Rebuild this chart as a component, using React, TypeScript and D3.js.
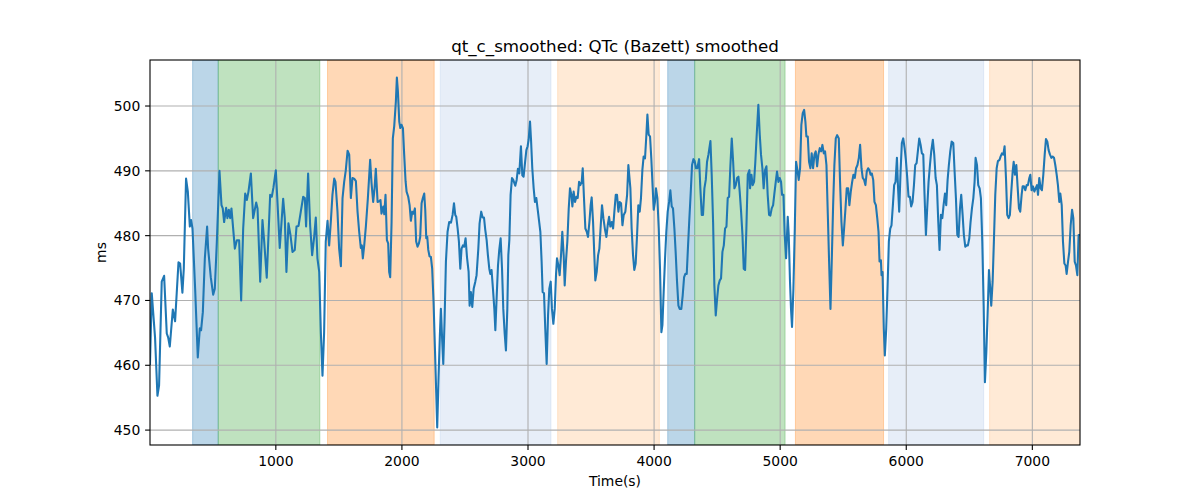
import React from 'react';
import * as d3 from 'd3';

const times = [
  2, 16, 42, 61, 74, 95, 114, 135, 146, 159, 183, 201, 228, 241, 259, 270, 288, 302, 318, 328, 339, 360, 381, 397, 407, 421, 437, 455, 463, 484, 503, 516, 532, 553, 569, 579, 590, 606, 616, 627, 638, 648, 675, 691, 709, 725, 741, 757, 770, 783, 802, 820, 844, 855, 876, 894, 908,
  928, 955, 968, 981, 1000, 1013, 1031, 1058, 1071, 1084, 1100, 1116, 1132, 1150, 1164, 1180, 1198, 1217, 1230, 1240, 1256, 1272, 1288, 1304, 1317, 1330, 1344, 1357, 1370, 1383, 1396, 1410, 1423, 1436, 1449, 1463, 1473, 1489, 1502, 1516, 1529, 1542, 1555, 1569, 1582, 1595, 1608, 1621, 1635, 1648, 1661, 1674, 1682, 1690, 1701, 1714, 1730, 1748, 1759, 1772, 1783, 1793, 1807, 1820, 1830, 1838, 1852, 1860, 1870, 1881, 1891, 1899,
  1907, 1918, 1928, 1939, 1952, 1960, 1968, 1979, 1987, 1997, 2008, 2018, 2029, 2037, 2050, 2061, 2071, 2082, 2092, 2103, 2113, 2124, 2135, 2145, 2156, 2166, 2177, 2185, 2193, 2201, 2209, 2219, 2230, 2240, 2251, 2262, 2272, 2280, 2291, 2301, 2309, 2320, 2328, 2338, 2349, 2362, 2375, 2389, 2402, 2413, 2423, 2431, 2442, 2452, 2463, 2473, 2484, 2494, 2505, 2516, 2529, 2537, 2547, 2558, 2569, 2582, 2592, 2606, 2616, 2629, 2640, 2651, 2661, 2672, 2682, 2693, 2701, 2711, 2722, 2733, 2741, 2751, 2762, 2772, 2783, 2794, 2804, 2815, 2825, 2836, 2844, 2852,
  2862, 2873, 2883, 2899, 2910, 2920, 2931, 2944, 2955, 2965, 2976, 2987, 2997, 3005, 3016, 3024, 3034, 3045, 3055, 3066, 3077, 3087, 3098, 3108, 3116, 3127, 3137, 3148, 3159, 3169, 3180, 3190, 3201, 3212, 3222, 3230, 3241, 3251, 3262, 3272, 3283, 3291, 3301, 3312, 3323, 3333, 3344, 3352, 3362, 3373, 3384, 3394, 3405, 3415, 3426, 3434, 3444, 3455, 3466, 3476, 3487, 3497, 3505, 3516, 3526, 3534, 3545, 3556, 3566, 3577, 3587, 3598, 3611, 3622, 3632, 3643, 3653, 3664, 3675, 3685, 3696, 3706, 3717, 3727, 3738, 3749, 3759, 3772, 3786, 3796,
  3812, 3822, 3833, 3843, 3854, 3865, 3875, 3886, 3896, 3907, 3917, 3928, 3939, 3947, 3957, 3968, 3978, 3989, 3997, 4007, 4015, 4026, 4037, 4047, 4058, 4066, 4076, 4087, 4097, 4108, 4119, 4129, 4140, 4150, 4161, 4171, 4182, 4193, 4203, 4216, 4227, 4238, 4248, 4259, 4269, 4280, 4291, 4301, 4312, 4322, 4333, 4343, 4357, 4367, 4378, 4388, 4399, 4410, 4420, 4431, 4447, 4457, 4468, 4478, 4489, 4500, 4510, 4521, 4531, 4542, 4553, 4563, 4574, 4584, 4595, 4605, 4616, 4627, 4637, 4648, 4658, 4669, 4679, 4690, 4701, 4711, 4722, 4732, 4743, 4756,
  4761, 4772, 4782, 4793, 4803, 4814, 4827, 4838, 4848, 4859, 4869, 4880, 4891, 4901, 4912, 4922, 4933, 4944, 4954, 4965, 4975, 4986, 4996, 5007, 5015, 5026, 5036, 5047, 5060, 5068, 5078, 5086, 5094, 5105, 5116, 5126, 5137, 5147, 5158, 5168, 5179, 5190, 5200, 5208, 5219, 5229, 5240, 5250, 5261, 5272, 5282, 5293, 5303, 5314, 5325, 5335, 5346, 5356, 5367, 5378, 5388, 5399, 5409, 5420, 5430, 5441, 5452, 5465, 5475, 5486, 5497, 5507, 5518, 5528, 5539, 5549, 5560, 5571, 5581, 5592, 5602, 5613, 5624, 5634, 5645, 5655, 5666, 5676, 5687, 5698, 5708,
  5717, 5727, 5738, 5748, 5759, 5770, 5780, 5788, 5799, 5804, 5812, 5822, 5830, 5841, 5852, 5862, 5873, 5883, 5894, 5904, 5915, 5926, 5934, 5944, 5955, 5965, 5976, 5987, 5997, 6008, 6018, 6029, 6039, 6050, 6061, 6071, 6082, 6092, 6103, 6114, 6124, 6135, 6145, 6156, 6166, 6177, 6188, 6198, 6211, 6222, 6233, 6243, 6254, 6264, 6275, 6286, 6296, 6307, 6317, 6328, 6338, 6349, 6360, 6373, 6383, 6394, 6405, 6415, 6426, 6436, 6447, 6457, 6468, 6479, 6489, 6500, 6510, 6521, 6532, 6542, 6550, 6561, 6571, 6582, 6592, 6603, 6614, 6624, 6635, 6645, 6656,
  6666, 6674, 6685, 6695, 6706, 6717, 6727, 6740, 6748, 6759, 6770, 6780, 6791, 6801, 6812, 6822, 6833, 6844, 6852, 6862, 6873, 6883, 6894, 6904, 6915, 6923, 6934, 6944, 6955, 6965, 6976, 6984, 6994, 7005, 7016, 7026, 7037, 7045, 7055, 7066, 7076, 7087, 7098, 7108, 7119, 7129, 7140, 7151, 7161, 7172, 7182, 7193, 7203, 7214, 7222, 7233, 7243, 7254, 7264, 7272, 7283, 7293, 7304, 7315, 7325, 7336, 7346, 7357, 7367, 7378,
];

const qtc = [
  460.2, 471.1, 464.3, 455.3, 456.9, 472.9, 473.8, 464.9, 464.3, 462.9, 468.6, 466.8, 475.9, 475.7, 471.2, 474.9, 488.8, 486.8, 481.4, 482.4, 481.1, 471.8, 461.2, 465.7, 465.4, 468.2, 476.5, 481.4, 478.0, 473.6, 470.9, 471.8, 479.0, 490.0, 484.7, 484.2, 482.1, 484.3, 482.7, 484.0, 482.7, 484.2, 478.0, 479.3, 479.3, 470.0, 481.1, 486.5, 485.5, 486.8, 489.6, 482.7, 485.1, 484.2, 472.9, 482.4, 479.0,
  473.5, 486.3, 486.0, 487.4, 490.1, 485.2, 478.1, 485.7, 482.7, 474.4, 481.9, 480.1, 477.5, 477.8, 481.4, 481.5, 483.7, 486.0, 485.8, 481.4, 489.6, 481.6, 477.0, 479.8, 482.8, 476.5, 474.4, 465.1, 458.4, 465.1, 479.1, 482.3, 478.5, 482.1, 486.3, 488.8, 488.3, 483.7, 478.0, 475.3, 485.8, 488.3, 490.1, 493.1, 492.5, 485.8, 488.9, 488.8, 488.4, 483.7, 480.6, 478.1, 478.5, 476.5, 478.5, 481.4, 485.8, 491.7, 488.1, 485.2, 487.3, 490.3, 485.2, 485.3, 485.5, 483.4, 484.5, 483.3, 486.3, 479.3, 478.8, 474.4,
  473.6, 482.1, 495.0, 496.9, 500.7, 504.4, 502.3, 497.6, 496.6, 497.1, 496.6, 492.5, 488.4, 486.8, 486.0, 484.7, 482.3, 483.7, 483.4, 484.2, 479.1, 478.3, 478.8, 479.8, 485.0, 485.8, 486.5, 484.0, 479.6, 479.8, 477.8, 476.8, 476.7, 474.9, 469.8, 462.5, 455.8, 450.4, 458.4, 464.6, 468.7, 463.6, 460.2, 466.7, 476.0, 480.6, 482.1, 482.0, 483.2, 485.0, 483.2, 482.9, 481.1, 479.1, 474.9, 478.0, 478.5, 478.3, 479.6, 476.7, 474.4, 469.2, 471.3, 469.0, 471.8, 472.9, 473.9, 478.0, 481.9, 483.7, 482.8, 482.8, 480.9, 479.3, 477.0, 474.9, 474.1, 474.7, 471.8, 468.7, 465.4, 470.3, 475.4, 477.8, 479.6, 474.9, 468.7, 464.9, 462.3, 468.7, 477.0, 479.3,
  486.3, 488.9, 488.6, 487.7, 488.6, 490.3, 489.6, 493.8, 489.3, 489.1, 491.2, 493.2, 493.8, 494.8, 497.6, 494.8, 490.4, 487.3, 485.2, 485.8, 484.0, 482.4, 480.6, 476.0, 471.3, 471.1, 465.6, 460.2, 467.7, 471.8, 472.9, 468.7, 466.4, 468.7, 473.9, 476.5, 475.4, 473.9, 477.0, 480.6, 477.0, 472.3, 476.0, 479.1, 484.2, 487.3, 486.3, 484.5, 486.8, 485.2, 486.0, 485.8, 488.3, 487.8, 488.3, 490.4, 485.8, 481.1, 480.6, 479.8, 482.1, 484.7, 485.9, 482.1, 477.0, 473.1, 474.4, 477.0, 478.0, 481.6, 484.7, 482.7, 480.9, 479.8, 481.6, 482.9, 481.4, 482.1, 481.1, 483.7, 486.3, 486.3, 483.7, 485.2, 485.0, 481.6, 483.2, 483.7, 486.3, 490.9,
  487.3, 481.1, 477.0, 474.7, 475.7, 480.1, 484.7, 483.7, 485.8, 490.1, 492.2, 491.9, 495.6, 498.7, 495.6, 495.3, 491.9, 487.3, 484.0, 485.2, 487.3, 485.8, 481.1, 474.9, 465.1, 466.2, 471.3, 476.5, 480.6, 483.7, 485.2, 487.0, 484.5, 484.2, 481.1, 477.5, 472.9, 469.2, 468.7, 468.7, 470.8, 473.6, 474.1, 474.1, 478.3, 482.7, 486.8, 490.9, 491.8, 491.5, 490.4, 490.4, 491.8, 487.3, 483.2, 483.2, 487.3, 488.6, 491.4, 492.5, 494.6, 489.4, 482.1, 472.3, 467.7, 470.3, 472.3, 473.1, 473.4, 477.5, 478.5, 481.1, 481.4, 485.8, 486.0, 490.7, 495.0, 491.4, 487.3, 487.8, 488.9, 489.1, 486.8, 483.7, 480.1, 474.9, 474.7, 481.1, 489.4, 490.1,
  487.3, 489.4, 487.8, 488.3, 491.4, 495.6, 500.2, 495.6, 492.5, 490.4, 487.3, 490.1, 490.7, 486.3, 483.2, 483.1, 484.2, 484.7, 486.5, 488.3, 489.9, 488.3, 488.9, 488.3, 486.3, 486.3, 480.1, 476.5, 482.9, 480.1, 472.9, 468.7, 465.9, 471.8, 481.1, 491.4, 490.1, 488.6, 490.4, 497.1, 498.9, 499.4, 497.6, 495.3, 495.3, 491.4, 490.4, 492.7, 490.4, 492.5, 493.0, 490.7, 492.5, 493.5, 493.0, 494.0, 492.7, 493.0, 490.9, 483.2, 476.0, 468.7, 476.0, 484.7, 490.9, 495.0, 495.5, 495.0, 488.3, 482.1, 478.5, 481.1, 484.2, 487.3, 487.3, 484.7, 486.8, 488.3, 489.4, 488.9, 490.4, 490.9, 492.0, 494.0, 490.4, 488.9, 488.6, 487.8, 489.9, 490.4, 490.1,
  489.4, 489.6, 488.6, 485.2, 484.7, 482.7, 480.6, 476.0, 476.2, 473.9, 474.4, 465.6, 461.5, 465.6, 472.3, 479.1, 481.1, 481.6, 484.7, 487.8, 488.3, 492.0, 487.8, 483.7, 489.9, 494.3, 495.0, 493.5, 491.7, 488.9, 486.0, 486.0, 484.5, 485.2, 487.8, 490.9, 491.2, 493.0, 495.0, 494.0, 492.7, 492.5, 486.3, 480.1, 484.2, 488.3, 490.9, 493.0, 494.8, 492.5, 488.9, 487.8, 482.1, 477.8, 483.2, 482.7, 484.7, 486.5, 484.7, 488.6, 490.9, 493.0, 494.5, 494.3, 490.1, 485.8, 480.1, 479.8, 484.2, 486.3, 483.2, 480.1, 478.3, 478.5, 478.5, 479.6, 482.1, 484.2, 485.8, 488.3, 492.0, 490.9, 487.8, 487.3, 485.8, 479.1, 469.2, 457.4, 462.0, 467.7, 474.7,
  471.8, 469.2, 472.9, 479.1, 486.3, 490.4, 491.5, 491.7, 492.2, 492.7, 492.5, 493.8, 488.9, 483.2, 482.7, 483.2, 486.8, 489.9, 491.4, 489.4, 490.9, 487.6, 484.2, 483.7, 486.3, 487.6, 487.6, 487.0, 487.8, 487.8, 488.9, 489.4, 487.0, 487.6, 486.8, 487.3, 487.8, 486.3, 488.9, 487.3, 487.0, 489.4, 492.5, 494.9, 494.5, 493.2, 492.5, 492.0, 492.2, 492.0, 490.9, 489.4, 487.8, 485.2, 486.5, 484.7, 479.1, 475.7, 475.4, 474.1, 476.0, 477.5, 481.6, 484.0, 482.7, 476.0, 475.4, 473.9, 480.1, 480.1,
];

const stageStarts = [340, 543, 1410, 2304, 3235, 4108, 4322, 5121, 5860, 6661];
const stageEnds = [543, 1349, 2256, 3182, 4042, 4322, 5039, 5820, 6614, 7378];
const stageColors = ['#1f77b4', '#2ca02c', '#ff7f0e', '#aec7e8', '#ffbb78', '#1f77b4', '#2ca02c', '#ff7f0e', '#aec7e8', '#ffbb78'];

const xTicks = [1000, 2000, 3000, 4000, 5000, 6000, 7000];
const yTicks = [450, 460, 470, 480, 490, 500];

const titleText = 'qt_c_smoothed: QTc (Bazett) smoothed';
const xLabel = 'Time(s)';
const yLabel = 'ms';

export default function App() {
  const W = 1200, H = 500;
  const L = 150, R = 1080, T = 60, B = 445;
  const font = '"DejaVu Sans", sans-serif';

  const [xmin, xmax] = d3.extent(times) as [number, number];
  const [ymin, ymax] = d3.extent(qtc) as [number, number];
  const pad = (ymax - ymin) * 0.05;

  const x = d3.scaleLinear().domain([xmin, xmax]).range([L, R]);
  const y = d3.scaleLinear().domain([ymin - pad, ymax + pad]).range([B, T]);

  const pts = times.map((t, i) => [t, qtc[i]] as [number, number]);
  const line = d3.line<[number, number]>().x(d => x(d[0])).y(d => y(d[1]));

  return (
    <div style={{ position: 'absolute', left: 0, top: 0 }}>
      <svg width={W} height={H} style={{ display: 'block', background: '#fff' }}>
        <defs>
          <clipPath id="plotclip">
            <rect x={L} y={T} width={R - L} height={B - T} />
          </clipPath>
        </defs>
        <g clipPath="url(#plotclip)">
          {stageStarts.map((s, i) => (
            <rect key={i} x={x(s)} y={T} width={x(stageEnds[i]) - x(s)} height={B - T}
              fill={stageColors[i]} fillOpacity={0.3} stroke={stageColors[i]} strokeOpacity={0.3} strokeWidth={1} />
          ))}
        </g>
        {xTicks.map(t => (
          <line key={'gx' + t} x1={x(t)} x2={x(t)} y1={T} y2={B} stroke="#b0b0b0" strokeWidth={1.1} />
        ))}
        {yTicks.map(t => (
          <line key={'gy' + t} x1={L} x2={R} y1={y(t)} y2={y(t)} stroke="#b0b0b0" strokeWidth={1.1} />
        ))}
        <path d={line(pts) || ''} fill="none" stroke="#1f77b4" strokeWidth={2.08} strokeLinejoin="round" strokeLinecap="square" clipPath="url(#plotclip)" />
        <rect x={L} y={T} width={R - L} height={B - T} fill="none" stroke="#000" strokeWidth={1.1} />
        {xTicks.map(t => (
          <g key={'xt' + t}>
            <line x1={x(t)} x2={x(t)} y1={B} y2={B + 4.9} stroke="#000" strokeWidth={1.1} />
            <text x={x(t)} y={B + 21} textAnchor="middle" fontFamily={font} fontSize={13.9} fill="#000">{t}</text>
          </g>
        ))}
        {yTicks.map(t => (
          <g key={'yt' + t}>
            <line x1={L - 4.9} x2={L} y1={y(t)} y2={y(t)} stroke="#000" strokeWidth={1.1} />
            <text x={L - 9.7} y={y(t)} dy="0.36em" textAnchor="end" fontFamily={font} fontSize={13.9} fill="#000">{t}</text>
          </g>
        ))}
        <text x={(L + R) / 2} y={52} textAnchor="middle" fontFamily={font} fontSize={16.7} fill="#000">{titleText}</text>
        <text x={(L + R) / 2} y={486} textAnchor="middle" fontFamily={font} fontSize={13.9} fill="#000">{xLabel}</text>
        <text transform={`translate(106, ${(T + B) / 2}) rotate(-90)`} textAnchor="middle" fontFamily={font} fontSize={13.9} fill="#000">{yLabel}</text>
      </svg>
    </div>
  );
}
